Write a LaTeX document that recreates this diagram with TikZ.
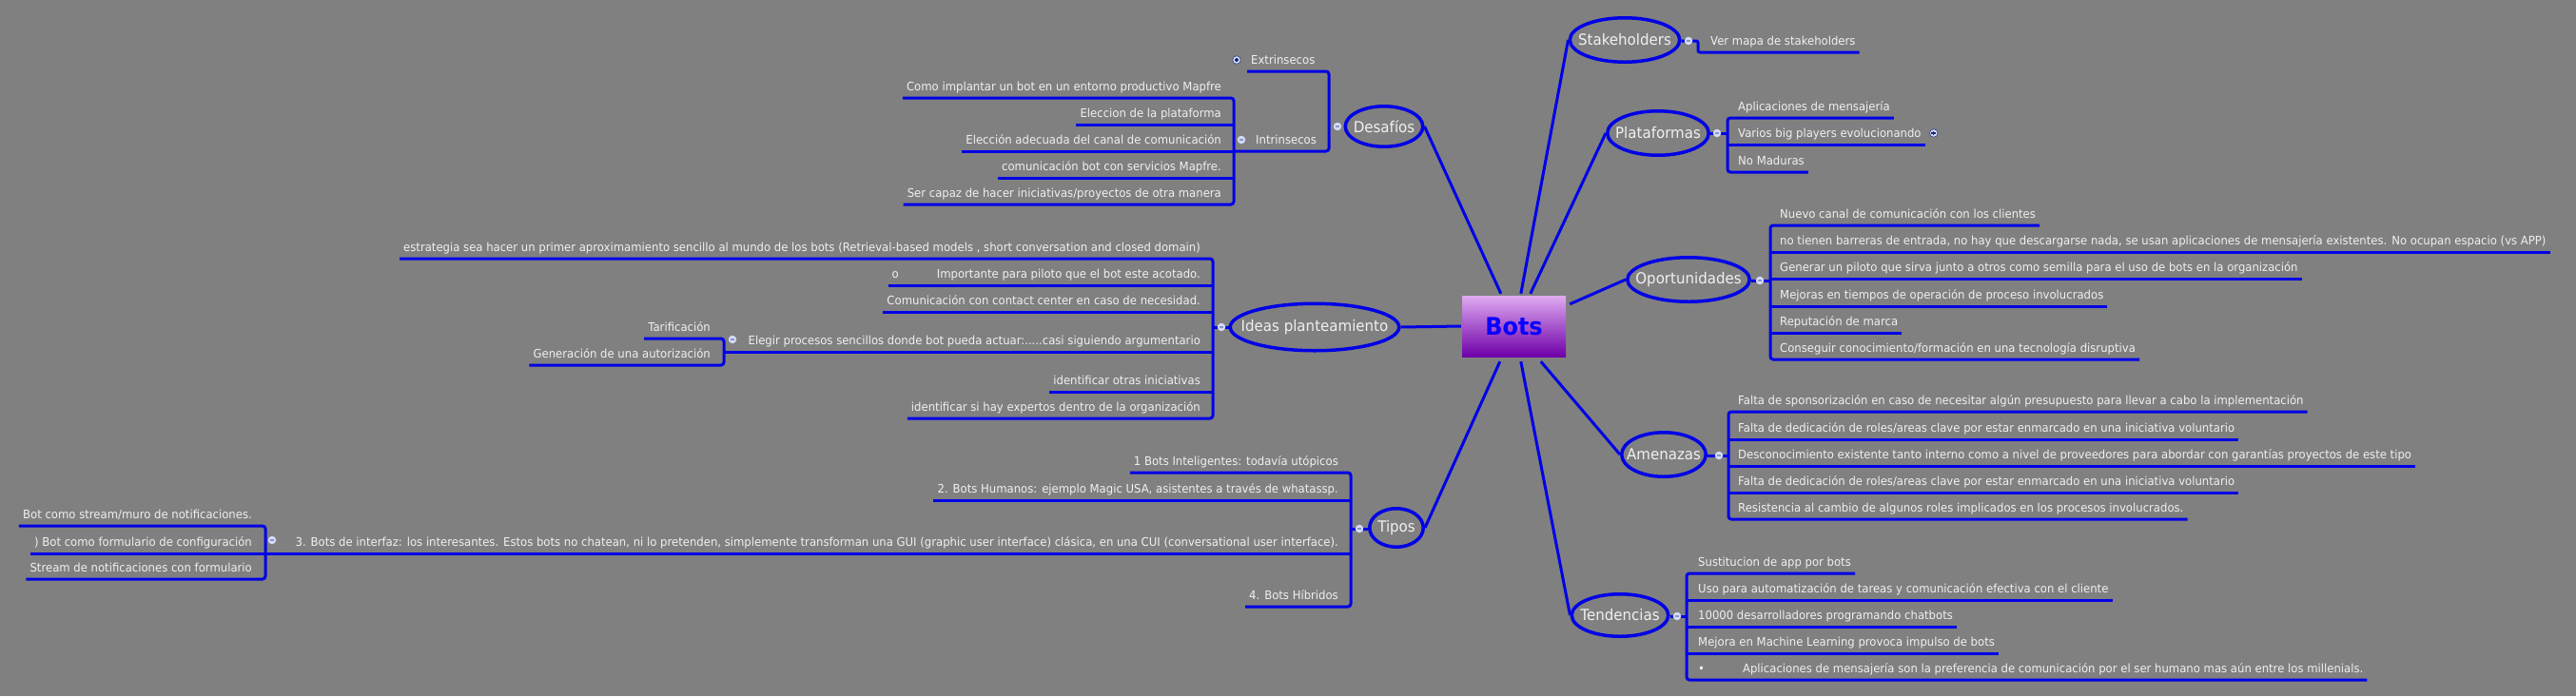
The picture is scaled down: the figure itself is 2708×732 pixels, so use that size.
\documentclass[tikz,border=0pt]{standalone}
\usepackage{fontspec}
\setmainfont{DejaVu Sans}[FakeStretch=0.94]
\usetikzlibrary{shapes.geometric}
\definecolor{bggray}{RGB}{128,128,128}
\definecolor{lineblue}{RGB}{0,0,230}
\definecolor{txtc}{RGB}{240,240,240}
\definecolor{dotfill}{RGB}{212,220,250}
\definecolor{dotmark}{RGB}{140,150,195}
\definecolor{plusmark}{RGB}{30,40,120}
\definecolor{bottop}{RGB}{222,170,240}
\definecolor{botbot}{RGB}{110,0,168}
\definecolor{botstext}{RGB}{10,0,255}
\newcommand{\mmsub}{\fontsize{12.4}{14}\selectfont}
\newcommand{\mmtop}{\fontsize{16}{19}\selectfont}
\newcommand{\mmbots}{\fontsize{25.5}{30}\selectfont\bfseries}
\begin{document}
\begin{tikzpicture}[x=1pt,y=-1pt,
  conn/.style={draw=lineblue, line width=3pt},
  brk/.style={conn, rounded corners=3pt},
  topic/.style={ellipse, draw=lineblue, line width=3.5pt, inner sep=0pt},
  toptext/.style={font=\mmtop, text=txtc, inner sep=0pt},
  subl/.style={font=\mmsub, text=txtc, inner xsep=4pt, inner ysep=0pt, text depth=7pt, anchor=south east},
  subr/.style={font=\mmsub, text=txtc, inner xsep=4pt, inner ysep=0pt, text depth=7pt, anchor=south west},
  botsbox/.style={rectangle, minimum width=109pt, minimum height=64pt, top color=bottop, bottom color=botbot, font=\mmbots, text=botstext, inner sep=0pt},
  dotm/.style={circle, fill=dotfill, inner sep=0pt, minimum size=8.5pt,
    path picture={\draw[dotmark, line width=1.4pt] ([xshift=-2.4pt]path picture bounding box.center) -- ([xshift=2.4pt]path picture bounding box.center);}},
  dotp/.style={circle, fill=dotfill, draw=plusmark, line width=0.5pt, inner sep=0pt, minimum size=8.5pt,
    path picture={\draw[plusmark, line width=1.1pt] ([xshift=-2.3pt]path picture bounding box.center) -- ([xshift=2.3pt]path picture bounding box.center) ([yshift=-2.3pt]path picture bounding box.center) -- ([yshift=2.3pt]path picture bounding box.center);}}
]
\useasboundingbox (0,0) rectangle (2708,732);
\fill[bggray] (0,0) rectangle (2708,732);

% ---------- central and main topics ----------
\node[botsbox] (bots) at (1591.5,343) {Bots};

\node[topic, minimum width=81.5pt, minimum height=42.5pt] (desaf) at (1455,133) {};
\node[toptext] (desafT) at (desaf.center) {Desafíos};
\node[topic, minimum width=115.5pt, minimum height=46.5pt] (stake) at (1708,42) {};
\node[toptext] (stakeT) at (stake.center) {Stakeholders};
\node[topic, minimum width=106.5pt, minimum height=46.5pt] (plat) at (1743,140) {};
\node[toptext] (platT) at (plat.center) {Plataformas};
\node[topic, minimum width=128.5pt, minimum height=46.5pt] (oport) at (1775,294) {};
\node[toptext] (oportT) at (oport.center) {Oportunidades};
\node[topic, minimum width=88.5pt, minimum height=46.5pt] (amen) at (1749,478) {};
\node[toptext] (amenT) at (amen.center) {Amenazas};
\node[topic, minimum width=101.5pt, minimum height=44.5pt] (tend) at (1703,647) {};
\node[toptext] (tendT) at (tend.center) {Tendencias};
\node[topic, minimum width=56.5pt, minimum height=40.5pt] (tipos) at (1468,555) {};
\node[toptext] (tiposT) at (tipos.center) {Tipos};
\node[topic, minimum width=177.5pt, minimum height=49.5pt] (ideas) at (1382,344) {};
\node[toptext] (ideasT) at (ideas.center) {Ideas planteamiento};

% spokes from Bots
\draw[conn] ([xshift=41pt,yshift=2pt]bots.north west) -- (desaf.east);
\draw[conn] ([xshift=62pt,yshift=2pt]bots.north west) -- (stake.west);
\draw[conn] ([xshift=72pt,yshift=2pt]bots.north west) -- (plat.west);
\draw[conn] ([xshift=4pt,yshift=-9pt]bots.north east) -- (oport.west);
\draw[conn] ([xshift=83pt,yshift=-5pt]bots.south west) -- (amen.west);
\draw[conn] ([xshift=62pt,yshift=-5pt]bots.south west) -- (tend.west);
\draw[conn] ([xshift=40pt,yshift=-5pt]bots.south west) -- (tipos.east);
\draw[conn] ([xshift=-1pt]bots.west) -- (ideas.east);

% ---------- bracket coordinates ----------
\coordinate (desB) at (1397,133);
\coordinate (intrB) at (1297,159);
\coordinate (stakeB) at (1785,43);
\coordinate (platB) at (1816,140);
\coordinate (opB) at (1861,295);
\coordinate (amB) at (1817,479);
\coordinate (tendB) at (1773,648);
\coordinate (tiposB) at (1420,556);
\coordinate (ideasB) at (1275,344);
\coordinate (elegB) at (761,370);
\coordinate (bifB) at (279,582);

% ---------- Desafios ----------
\node[subr] (ext) at (1311,75) {Extrinsecos};
\node[subr] (intr) at (1316,159) {Intrinsecos};
\draw[brk] (ext.south west) -- (ext.south west -| desB) -- (intr.south -| desB) -- (intrB |- intr.south);
\node[subl] (d1) at (1288,103) {Como implantar un bot en un entorno productivo Mapfre};
\node[subl] (d2) at (1288,131) {Eleccion de la plataforma};
\node[subl] (d3) at (1288,159) {Elección adecuada del canal de comunicación};
\node[subl] (d4) at (1288,187) {comunicación bot con servicios Mapfre.};
\node[subl] (d5) at (1288,215) {Ser capaz de hacer iniciativas/proyectos de otra manera};
\draw[brk] (d1.south west) -- (d1.south east -| intrB) -- (d5.south east -| intrB) -- (d5.south west);
\draw[conn] (d2.south west) -- (d2.south east -| intrB);
\draw[conn] (d3.south west) -- (d3.south east -| intrB);
\draw[conn] (d4.south west) -- (d4.south east -| intrB);

% ---------- Stakeholders ----------
\node[subr] (s1) at (1794,55) {Ver mapa de stakeholders};
\draw[conn, rounded corners=2pt] (stakeB -| stake.east) -- (stakeB) -- (stakeB |- s1.south) -- (s1.south east);

% ---------- Plataformas ----------
\node[subr] (p1) at (1823,124) {Aplicaciones de mensajería};
\node[subr] (p2) at (1823,152) {Varios big players evolucionando};
\node[subr] (p3) at (1823,181) {No Maduras};
\draw[brk] (p1.south east) -- (p1.south west -| platB) -- (p3.south west -| platB) -- (p3.south east);
\draw[conn] (p2.south west -| platB) -- (p2.south east);
\draw[conn] (plat.east) -- (platB);

% ---------- Oportunidades ----------
\node[subr] (o1) at (1867,237) {Nuevo canal de comunicación con los clientes};
\node[subr] (o2) at (1867,265) {no tienen barreras de entrada, no hay que descargarse nada, se usan aplicaciones de mensajería existentes. No ocupan espacio (vs APP)};
\node[subr] (o3) at (1867,293) {Generar un piloto que sirva junto a otros como semilla para el uso de bots en la organización};
\node[subr] (o4) at (1867,322) {Mejoras en tiempos de operación de proceso involucrados};
\node[subr] (o5) at (1867,350) {Reputación de marca};
\node[subr] (o6) at (1867,378) {Conseguir conocimiento/formación en una tecnología disruptiva};
\draw[brk] (o1.south east) -- (o1.south west -| opB) -- (o6.south west -| opB) -- (o6.south east);
\draw[conn] (o2.south west -| opB) -- (o2.south east);
\draw[conn] (o3.south west -| opB) -- (o3.south east);
\draw[conn] (o4.south west -| opB) -- (o4.south east);
\draw[conn] (o5.south west -| opB) -- (o5.south east);
\draw[conn] (opB -| oport.east) -- (opB);

% ---------- Amenazas ----------
\node[subr] (a1) at (1823,433) {Falta de sponsorización en caso de necesitar algún presupuesto para llevar a cabo la implementación};
\node[subr] (a2) at (1823,462) {Falta de dedicación de roles/areas clave por estar enmarcado en una iniciativa voluntario};
\node[subr] (a3) at (1823,490) {Desconocimiento existente tanto interno como a nivel de proveedores para abordar con garantías proyectos de este tipo};
\node[subr] (a4) at (1823,518) {Falta de dedicación de roles/areas clave por estar enmarcado en una iniciativa voluntario};
\node[subr] (a5) at (1823,546) {Resistencia al cambio de algunos roles implicados en los procesos involucrados.};
\draw[brk] (a1.south east) -- (a1.south west -| amB) -- (a5.south west -| amB) -- (a5.south east);
\draw[conn] (a2.south west -| amB) -- (a2.south east);
\draw[conn] (a3.south west -| amB) -- (a3.south east);
\draw[conn] (a4.south west -| amB) -- (a4.south east);
\draw[conn] (amB -| amen.east) -- (amB);

% ---------- Tendencias ----------
\node[subr] (t1) at (1781,603) {Sustitucion de app por bots};
\node[subr] (t2) at (1781,631) {Uso para automatización de tareas y comunicación efectiva con el cliente};
\node[subr] (t3) at (1781,659) {10000 desarrolladores programando chatbots};
\node[subr] (t4) at (1781,687) {Mejora en Machine Learning provoca impulso de bots};
\node[subr] (t5) at (1781,715) {•\hspace{40pt}Aplicaciones de mensajería son la preferencia de comunicación por el ser humano mas aún entre los millenials.};
\draw[brk] (t1.south east) -- (t1.south west -| tendB) -- (t5.south west -| tendB) -- (t5.south east);
\draw[conn] (t2.south west -| tendB) -- (t2.south east);
\draw[conn] (t3.south west -| tendB) -- (t3.south east);
\draw[conn] (t4.south west -| tendB) -- (t4.south east);
\draw[conn] (tendB -| tend.east) -- (tendB);

% ---------- Tipos ----------
\node[subl] (y1) at (1411,497) {1 Bots Inteligentes: todavía utópicos};
\node[subl] (y2) at (1411,526) {2. Bots Humanos: ejemplo Magic USA, asistentes a través de whatassp.};
\node[subl] (y3) at (1411,582) {3. Bots de interfaz: los interesantes. Estos bots no chatean, ni lo pretenden, simplemente transforman una GUI (graphic user interface) clásica, en una CUI (conversational user interface).};
\node[subl] (y4) at (1411,638) {4. Bots Híbridos};
\draw[brk] (y1.south west) -- (y1.south east -| tiposB) -- (y4.south east -| tiposB) -- (y4.south west);
\draw[conn] (y2.south west) -- (y2.south east -| tiposB);
\draw[conn] (bifB) -- (y3.south east -| tiposB);
\draw[conn] (tiposB) -- (tiposB -| tipos.west);
\node[subl] (b1) at (269,553) {Bot como stream/muro de notificaciones.};
\node[subl] (b2) at (269,582) {) Bot como formulario de configuración};
\node[subl] (b3) at (269,609) {Stream de notificaciones con formulario};
\draw[brk] (b1.south west) -- (b1.south east -| bifB) -- (b3.south east -| bifB) -- (b3.south west);
\draw[conn] (b2.south west) -- (b2.south east -| bifB);

% ---------- Ideas planteamiento ----------
\node[subl] (i1) at (1266,272) {estrategia sea hacer un primer aproximamiento sencillo al mundo de los bots (Retrieval-based models , short conversation and closed domain)};
\node[subl] (i2) at (1266,300) {o\hspace{40pt}Importante para piloto que el bot este acotado.};
\node[subl] (i3) at (1266,328) {Comunicación con contact center en caso de necesidad.};
\node[subl] (i4) at (1266,370) {Elegir procesos sencillos donde bot pueda actuar:.....casi siguiendo argumentario};
\node[subl] (i5) at (1266,412) {identificar otras iniciativas};
\node[subl] (i6) at (1266,440) {identificar si hay expertos dentro de la organización};
\draw[brk] (i1.south west) -- (i1.south east -| ideasB) -- (i6.south east -| ideasB) -- (i6.south west);
\draw[conn] (i2.south west) -- (i2.south east -| ideasB);
\draw[conn] (i3.south west) -- (i3.south east -| ideasB);
\draw[conn] (elegB) -- (i4.south east -| ideasB);
\draw[conn] (i5.south west) -- (i5.south east -| ideasB);
\draw[conn] (ideasB) -- (ideasB -| ideas.west);
\node[subl] (e1) at (751,356) {Tarificación};
\node[subl] (e2) at (751,384) {Generación de una autorización};
\draw[brk] (e1.south west) -- (e1.south east -| elegB) -- (e2.south east -| elegB) -- (e2.south west);

% ---------- expand / collapse markers ----------
\node[dotm] (desafD) at (1406,133) {};
\node[dotp] (extD) at (1300,63) {};
\node[dotm] (intrD) at (1305,147) {};
\node[dotm] (stakeD) at (1775,43) {};
\node[dotm] (platD) at (1805,140) {};
\node[dotp] (varD) at ([xshift=9pt,yshift=12pt]p2.south east) {};
\node[dotm] (oportD) at (1850,295) {};
\node[dotm] (amenD) at (1807,479) {};
\node[dotm] (tendD) at (1763,648) {};
\node[dotm] (tiposD) at (1429,556) {};
\node[dotm] (ideasD) at (1284,344) {};
\node[dotm] (elegD) at (770,357) {};
\node[dotm] (bifD) at (286,568) {};
\end{tikzpicture}
\end{document}
